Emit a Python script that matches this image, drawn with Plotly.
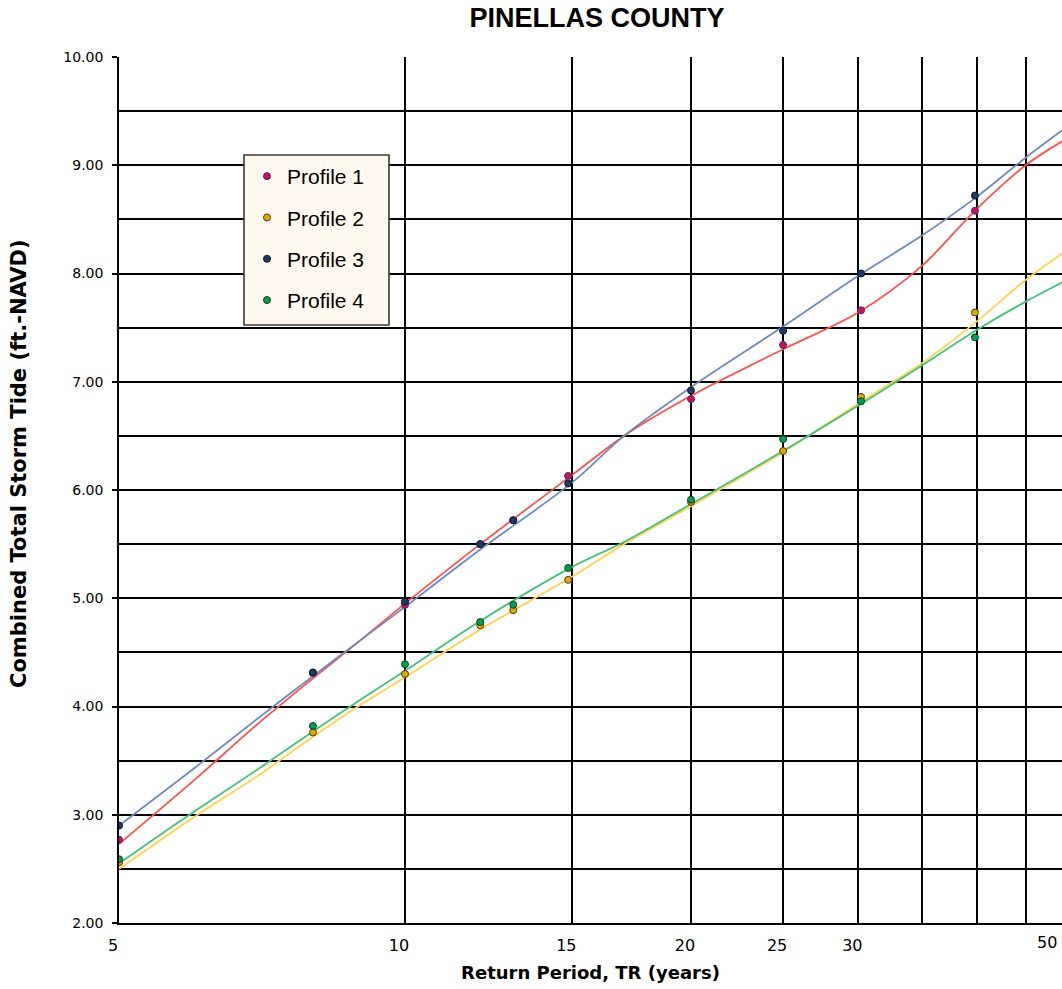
import math
import plotly.graph_objects as go

# ---------------- data ----------------
tr_points = [5, 8, 10, 12, 13, 14.85, 20, 25, 30.2, 39.8]
profile1_pts = [2.77, 4.31, 4.94, 5.50, 5.72, 6.13, 6.84, 7.34, 7.66, 8.58]
profile2_pts = [2.56, 3.76, 4.30, 4.75, 4.89, 5.17, 5.89, 6.36, 6.86, 7.64]
profile3_pts = [2.90, 4.315, 4.97, 5.50, 5.72, 6.06, 6.92, 7.47, 8.00, 8.72]
profile4_pts = [2.59, 3.82, 4.39, 4.78, 4.94, 5.28, 5.91, 6.47, 6.82, 7.41]

# smoothed curves
tr_curve = [5, 6, 7, 8, 9, 10, 12, 15, 17, 20, 25, 30, 35, 40, 45, 50]
profile1_curve = [2.73, 3.32, 3.84, 4.26, 4.62, 4.95, 5.50, 6.14, 6.50, 6.87, 7.30, 7.64, 8.07, 8.60, 9.00, 9.26]
profile2_curve = [2.50, 2.98, 3.36, 3.72, 4.02, 4.27, 4.71, 5.20, 5.50, 5.85, 6.35, 6.80, 7.17, 7.56, 7.94, 8.23]
profile3_curve = [2.90, 3.43, 3.89, 4.28, 4.62, 4.92, 5.45, 6.07, 6.50, 6.95, 7.51, 7.98, 8.35, 8.71, 9.07, 9.37]
profile4_curve = [2.55, 3.03, 3.42, 3.77, 4.07, 4.33, 4.79, 5.29, 5.52, 5.87, 6.36, 6.78, 7.15, 7.48, 7.74, 7.95]

names = ["Profile 1", "Profile 2", "Profile 3", "Profile 4"]
x_tickvals = [5, 10, 15, 20, 25, 30, 35, 40, 45, 50]
x_ticktext = ["5", "10", "15", "20", "25", "30", "", "", "", "50"]
y_tickvals = [2, 3, 4, 5, 6, 7, 8, 9, 10]
y_ticktext = ["%.2f" % v for v in y_tickvals]

title_text = "PINELLAS COUNTY"
x_title = "Return Period, TR (years)"
y_title = "Combined Total Storm Tide (ft.-NAVD)"

# ---------------- styles ----------------
line_colors = ["#FF5050", "#FFD24F", "#6E8CB9", "#44C278"]
marker_fill = ["#D8104A", "#E0A800", "#1F3864", "#00A050"]
marker_edge = ["#3A2A9A", "#4A4020", "#101828", "#1E3A20"]

W, H = 1062, 989
L, R, T, B = 119, 0, 57, 66
plot_w = W - L - R
plot_h = H - T - B
px_per_decade = 950.1
x_lo = math.log10(5)
x_hi = x_lo + plot_w / px_per_decade

fig = go.Figure()

curves = [profile1_curve, profile2_curve, profile3_curve, profile4_curve]
for i, c in enumerate(curves):
    fig.add_trace(go.Scatter(
        x=tr_curve, y=c, mode="lines", showlegend=False, hoverinfo="skip",
        line=dict(color=line_colors[i], width=1.8, shape="spline", smoothing=0.9),
    ))

pts = [profile1_pts, profile2_pts, profile3_pts, profile4_pts]
for i, p in enumerate(pts):
    fig.add_trace(go.Scatter(
        x=tr_points, y=p, mode="markers", name=names[i], legendgroup=names[i],
        marker=dict(size=7, color=marker_fill[i], line=dict(color=marker_edge[i], width=1)),
    ))

xtick_font = dict(family="DejaVu Sans", size=16, color="#000")
ytick_font = dict(family="DejaVu Sans", size=14, color="#000")

fig.update_layout(
    width=W, height=H,
    margin=dict(l=L, r=R, t=T, b=B, pad=0),
    paper_bgcolor="white", plot_bgcolor="white",
    title=dict(text="<b>" + title_text + "</b>", x=597 / W, xanchor="center",
               y=1 - 18 / H, yanchor="middle",
               font=dict(family="Liberation Sans", size=27, color="#000")),
    xaxis=dict(type="log", range=[x_lo, x_hi], tickvals=x_tickvals, ticktext=x_ticktext,
               showgrid=True, gridcolor="#000", gridwidth=1.6,
               showline=True, linecolor="#000", linewidth=1.6,
               ticks="", tickfont=xtick_font, zeroline=False,
               ticklabelstandoff=7, ticklabelshift=-6,
               title=dict(text="<b>" + x_title + "</b>", standoff=12,
                          font=dict(family="DejaVu Sans", size=18, color="#000"))),
    yaxis=dict(range=[2, 10], tickvals=y_tickvals, ticktext=y_ticktext,
               showgrid=True, gridcolor="#000", gridwidth=1.6,
               minor=dict(dtick=0.5, tick0=2, showgrid=True, gridcolor="#000", gridwidth=1.6, ticks=""),
               showline=True, linecolor="#000", linewidth=1.6,
               ticks="outside", ticklen=5, tickcolor="#000", tickwidth=1.6,
               tickfont=ytick_font, zeroline=False, ticklabelstandoff=6),
    legend=dict(x=(247 - L) / plot_w, y=(H - B - 156) / plot_h, xanchor="left", yanchor="top",
                bgcolor="rgba(0,0,0,0)", borderwidth=0,
                font=dict(family="Liberation Sans", size=21, color="#000"),
                tracegroupgap=11, itemwidth=30),
    showlegend=True,
)

# y-axis title
fig.add_annotation(text="<b>" + y_title + "</b>", xref="paper", yref="paper",
                   x=(19 - L) / plot_w, y=(H - B - 464) / plot_h, textangle=-90,
                   xanchor="center", yanchor="middle", showarrow=False,
                   font=dict(family="DejaVu Sans", size=21, color="#000"))

# legend box
fig.add_shape(type="rect", xref="paper", yref="paper", layer="above",
              x0=(244 - L) / plot_w, x1=(389 - L) / plot_w,
              y0=(H - B - 325) / plot_h, y1=(H - B - 155) / plot_h,
              fillcolor="#FFF9EF", line=dict(color="#3A3A3A", width=1.6))

# the "50" label sits at the cropped right edge
fig.add_annotation(text=x_ticktext[-1], xref="paper", yref="paper",
                   x=(1047 - L) / plot_w, y=-(943 - (H - B)) / plot_h,
                   xanchor="center", yanchor="middle", showarrow=False, font=xtick_font)

fig.write_html("out.html")
